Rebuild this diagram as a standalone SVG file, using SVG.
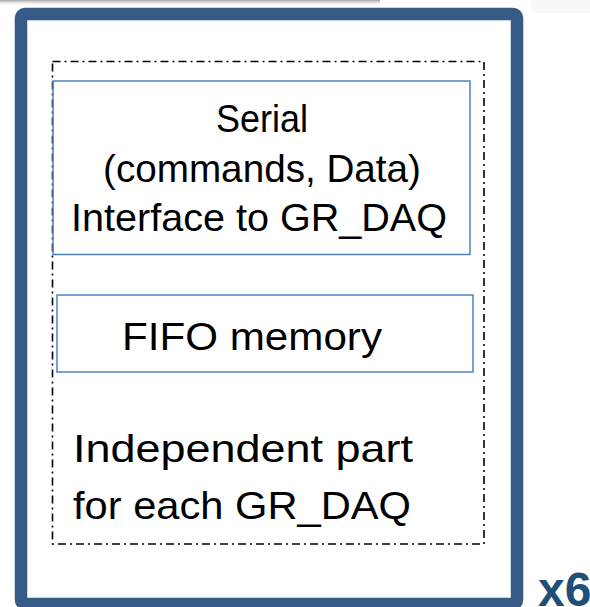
<svg xmlns="http://www.w3.org/2000/svg" width="590" height="607" viewBox="0 0 590 607">
  <defs>
    <linearGradient id="shadow" x1="0" y1="0" x2="0" y2="1">
      <stop offset="0" stop-color="#9a9a9a" stop-opacity="0.9"/>
      <stop offset="1" stop-color="#ffffff" stop-opacity="0"/>
    </linearGradient>
  </defs>
  <style>
    .lbl { font-family: "Liberation Sans", Arial, sans-serif; font-size: 39px; fill: #000000; }
    .box { fill: none; stroke: #4F81BD; stroke-width: 1.5; }
  </style>
  <rect x="0" y="0" width="590" height="607" fill="#ffffff"/>
  <rect x="0" y="0" width="380" height="6" fill="url(#shadow)"/>
  <rect x="531" y="0" width="59" height="13" fill="#f7f8fa"/>

  <g id="frame">
    <rect x="21" y="14" width="496" height="590" rx="4" fill="#ffffff" stroke="#375B87" stroke-width="12.5"/>
  </g>
  <g id="x6">
    <text x="538" y="606" font-family="Liberation Sans, Arial, sans-serif" font-weight="bold" font-size="48" fill="#1F4E79">x6</text>
  </g>
  <g id="group-boundary">
    <rect x="52.5" y="61.5" width="431.5" height="482.5" fill="none" stroke="#000000" stroke-width="1.6" stroke-dasharray="8,4,2,4"/>
    <text class="lbl" x="73" y="462" textLength="340" lengthAdjust="spacingAndGlyphs">Independent part</text>
    <text class="lbl" x="73" y="519" textLength="338" lengthAdjust="spacingAndGlyphs">for each GR_DAQ</text>
  </g>
  <g id="serial">
    <rect class="box" x="53" y="81" width="417" height="173.5"/>
    <text class="lbl" x="262" y="132" text-anchor="middle" textLength="92" lengthAdjust="spacingAndGlyphs">Serial</text>
    <text class="lbl" x="262" y="182" text-anchor="middle" textLength="318" lengthAdjust="spacingAndGlyphs">(commands, Data)</text>
    <text class="lbl" x="259" y="231" text-anchor="middle" textLength="376" lengthAdjust="spacingAndGlyphs">Interface  to GR_DAQ</text>
  </g>
  <g id="fifo">
    <rect class="box" x="57" y="295" width="416" height="77"/>
    <text class="lbl" x="252" y="350" text-anchor="middle" textLength="260" lengthAdjust="spacingAndGlyphs">FIFO memory</text>
  </g>
  <g id="connectors"/>
</svg>
